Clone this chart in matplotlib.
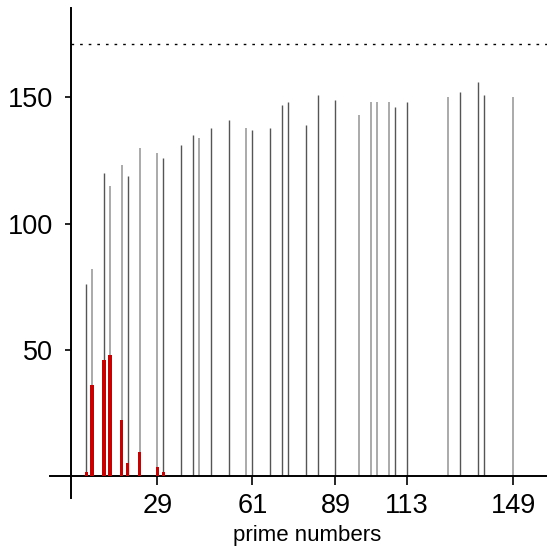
import numpy as np
import matplotlib
matplotlib.use('Agg')
import matplotlib.pyplot as plt

plt.rcParams['font.family'] = ['Liberation Sans', 'DejaVu Sans']

# primes shown on the axis and the height of the grey line at each one
primes = [5, 7, 11, 13, 17, 19, 23, 29, 31, 37, 41, 43, 47, 53, 59, 61, 67,
          71, 73, 79, 83, 89, 97, 101, 103, 107, 109, 113, 127, 131, 137, 139, 149]
gray_vals = [76, 82, 120, 115, 123, 119, 130, 128, 126, 131, 135, 134, 138, 141,
             138, 137, 138, 147, 148, 139, 151, 149, 143, 148, 148, 148, 146, 148,
             150, 152, 156, 151, 150]
# which lines are drawn in the lighter grey
light_primes = [7, 13, 17, 23, 29, 43, 59, 97, 101, 103, 107, 127, 149]

# red bars for the small primes
red_primes = [5, 7, 11, 13, 17, 19, 23, 29, 31]
red_vals = [1.5, 36, 46, 48, 22, 5, 9.5, 3.5, 1.5]

ref_level = 171
xticks = [29, 61, 89, 113, 149]
yticks = [50, 100, 150]

fig = plt.figure(figsize=(5.47, 5.46), dpi=100)
W, H = 547, 546
ax = fig.add_axes([50 / W, 1 - 497.7 / H, 497 / W, 489.7 / H])

light = [p in light_primes for p in primes]
px_l = [p for p, l in zip(primes, light) if l]
hv_l = [v for v, l in zip(gray_vals, light) if l]
px_d = [p for p, l in zip(primes, light) if not l]
hv_d = [v for v, l in zip(gray_vals, light) if not l]
ax.vlines(px_l, 0, hv_l, colors='#aaaaaa', linewidth=1.4)
ax.vlines(px_d, 0, hv_d, colors='#555555', linewidth=1.0)
ax.bar(red_primes, red_vals, width=1.1, color='#c80000', linewidth=0, zorder=3)
ax.axhline(ref_level, xmin=(0 + 7.18) / 167.48, color='black', linewidth=1.0,
           linestyle=(0, (1.9, 4.3)))

ax.set_xlim(-7.18, 160.3)
ax.set_ylim(-8.64, 185.4)

ax.spines['top'].set_visible(False)
ax.spines['right'].set_visible(False)
ax.spines['left'].set_position(('data', 0))
ax.spines['bottom'].set_position(('data', 0))
ax.spines['left'].set_linewidth(1.4)
ax.spines['bottom'].set_linewidth(1.4)

ax.set_xticks(xticks)
ax.set_xticklabels([str(t) for t in xticks])
ax.set_yticks(yticks)
ax.set_yticklabels([str(t) for t in yticks])
ax.tick_params(axis='x', direction='out', length=6.5, width=1.2, labelsize=19.5, pad=6)
ax.tick_params(axis='y', direction='out', length=4.3, width=1.2, labelsize=19.5, pad=9)

ax.text(307.5 / W, 1 - 535 / H, 'prime numbers', transform=fig.transFigure,
        ha='center', va='center', fontsize=16)

fig.savefig('out.png', dpi=100)
